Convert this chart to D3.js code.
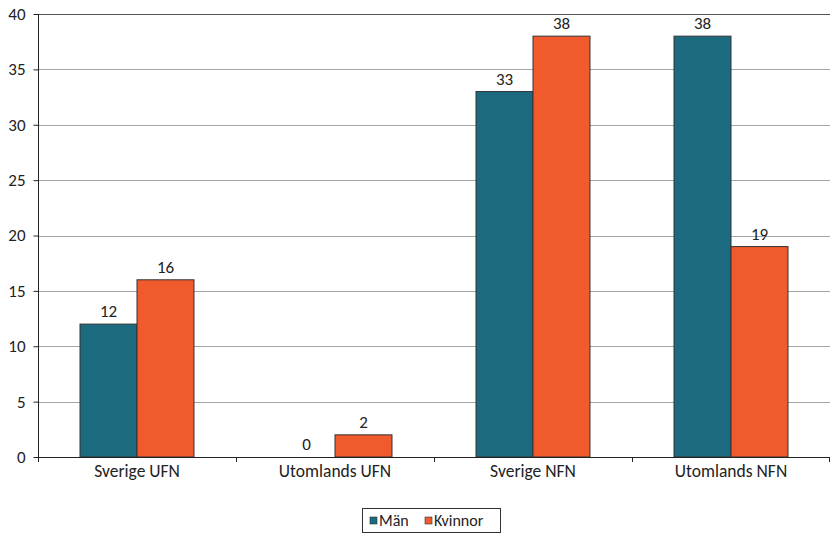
<!DOCTYPE html>
<html>
<head>
<meta charset="utf-8">
<script src="https://cdn.jsdelivr.net/npm/d3@7"></script>
<style>
  html, body { margin: 0; padding: 0; background: #fff; }
  svg text { font-family: Carlito, Lato, "Liberation Sans", sans-serif; fill: #222; }
</style>
</head>
<body>
<svg id="chart" width="830" height="534"></svg>
<script>
// Grupper och serier
const categories = ["Sverige UFN", "Utomlands UFN", "Sverige NFN", "Utomlands NFN"];
const seriesNames = ["Män", "Kvinnor"];
const manValues = [12, 0, 33, 38];
const kvinnorValues = [16, 2, 38, 19];
const yTicks = [0, 5, 10, 15, 20, 25, 30, 35, 40];
const colors = ["#1b6a80", "#f05a2c"];

const svg = d3.select("#chart");
const margin = { left: 38, right: 0, top: 14, bottom: 77 };
const W = 830, H = 534;
const x0 = margin.left, x1 = W - margin.right;
const yTop = margin.top, yBot = H - margin.bottom;

const x = d3.scaleBand().domain(categories).range([x0, x1]).paddingInner(0).paddingOuter(0);
const xs = d3.scaleBand().domain(seriesNames).range([0, x.bandwidth()]).paddingInner(0).paddingOuter(0.737);
const y = d3.scaleLinear().domain([0, 40]).range([yBot, yTop]);

// Stödlinjer
svg.append("g").selectAll("line").data(yTicks.filter(d => d > 0)).join("line")
  .attr("x1", x0).attr("x2", x1)
  .attr("y1", d => Math.round(y(d)) + 0.5).attr("y2", d => Math.round(y(d)) + 0.5)
  .attr("stroke", d => d === 40 ? "#555" : "#a6a6a6").attr("stroke-width", 1.2);

// Staplar
const data = categories.map((c, i) => ({ cat: c, vals: [manValues[i], kvinnorValues[i]] }));
const groups = svg.append("g").selectAll("g").data(data).join("g")
  .attr("transform", d => `translate(${x(d.cat)},0)`);

groups.selectAll("rect").data(d => d.vals.map((v, j) => ({ v, s: seriesNames[j], j })))
  .join("rect")
  .filter(d => d.v > 0)
  .attr("x", d => xs(d.s))
  .attr("width", xs.bandwidth())
  .attr("y", d => y(d.v))
  .attr("height", d => y(0) - y(d.v))
  .attr("fill", d => colors[d.j])
  .attr("stroke", "#333").attr("stroke-width", 1);

groups.selectAll("text").data(d => d.vals.map((v, j) => ({ v, s: seriesNames[j] })))
  .join("text")
  .attr("x", d => xs(d.s) + xs.bandwidth() / 2)
  .attr("y", d => y(d.v) - 7)
  .attr("text-anchor", "middle")
  .attr("font-size", 17)
  .text(d => d.v);

// Y-axel
const yAxis = d3.axisLeft(y).tickValues(yTicks).tickSize(5).tickPadding(8);
const gy = svg.append("g").attr("transform", `translate(${x0 + 0.5},0)`).call(yAxis);
gy.select(".domain").attr("stroke", "#222").attr("d", `M0,${yTop}V${yBot}`);
gy.selectAll(".tick line").attr("stroke", "#222");
gy.selectAll(".tick text").attr("font-size", 17).attr("fill", "#222")
  .style("font-family", "Carlito, Lato, 'Liberation Sans', sans-serif");

// X-axel
const xAxis = d3.axisBottom(x).tickSize(0).tickPadding(7);
const gx = svg.append("g").attr("transform", `translate(0,${yBot + 0.5})`).call(xAxis);
gx.select(".domain").attr("stroke", "#222").attr("d", `M${x0},0H${x1}`);
gx.selectAll(".tick text").attr("font-size", 17.5).attr("fill", "#222").attr("dy", "0.71em")
  .style("font-family", "Carlito, Lato, 'Liberation Sans', sans-serif");
// Avgränsande streck mellan grupperna
svg.append("g").selectAll("line").data(categories.concat(["end"])).join("line")
  .attr("x1", (d, i) => i < categories.length ? Math.round(x(d)) + 0.5 : x1 - 0.5)
  .attr("x2", (d, i) => i < categories.length ? Math.round(x(d)) + 0.5 : x1 - 0.5)
  .attr("y1", yBot).attr("y2", yBot + 5)
  .attr("stroke", "#222");

// Förklaring
const lg = svg.append("g").attr("transform", "translate(362,508)");
lg.append("rect").attr("x", 0.5).attr("y", 0.5).attr("width", 138).attr("height", 24)
  .attr("fill", "#fff").attr("stroke", "#333").attr("stroke-width", 1);
const items = [{ n: seriesNames[0], dx: 8 }, { n: seriesNames[1], dx: 63 }];
items.forEach((it, i) => {
  lg.append("rect").attr("x", it.dx).attr("y", 9).attr("width", 7).attr("height", 7)
    .attr("fill", colors[i]).attr("stroke", "#333").attr("stroke-width", 0.6);
  lg.append("text").attr("x", it.dx + 9).attr("y", 18).attr("font-size", 16).text(it.n);
});
</script>
</body>
</html>
